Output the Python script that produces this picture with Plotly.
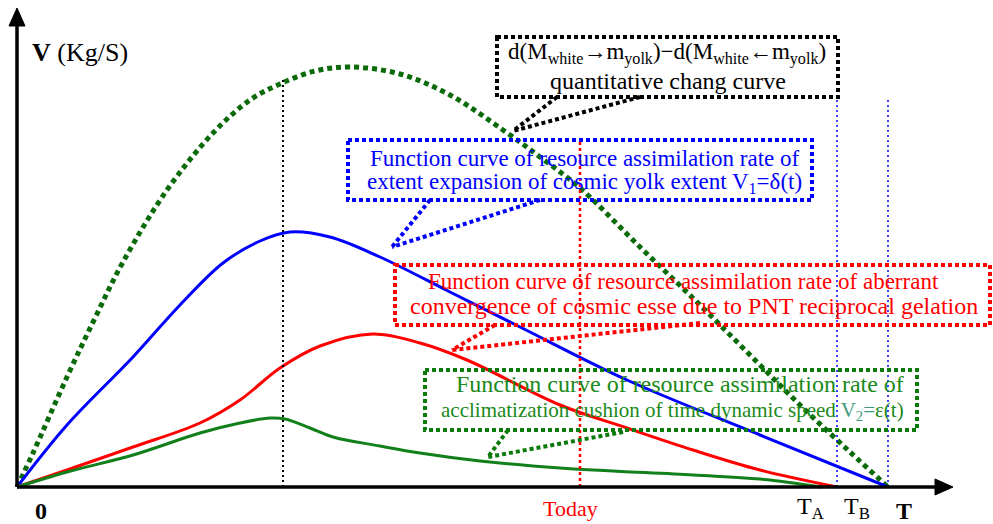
"""Conceptual diagram: resource assimilation rate curves."""
import plotly.graph_objects as go

# time axis (t) and rate (V) values
t_diff = [0, 16, 50, 78, 106, 150, 196, 233, 263, 298, 333, 383, 433, 486,
          523, 563, 623, 683, 733, 783, 833, 871]
v_diff = [0, 34, 110, 169, 225, 297, 354, 387, 403, 416, 420, 413, 392, 357,
          330, 299, 240, 182, 132, 82, 35, 0]

t_v1 = [0, 50, 116, 163, 206, 243, 273, 313, 363, 433, 503, 610, 743, 871]
v_v1 = [0, 62, 130, 182, 224, 246, 255, 250, 230, 195, 160, 107, 52, 0]

t_pnt = [0, 50, 116, 183, 223, 263, 303, 356, 403, 450, 543, 610, 676, 743, 820]
v_pnt = [0, 17, 40, 64, 87, 119, 141, 153, 144, 127, 82, 59, 37, 17, 0]

t_v2 = [0, 50, 116, 183, 223, 253, 268, 293, 316, 363, 403, 463, 543, 676,
        743, 805]
v_v2 = [0, 15, 32, 54, 64, 69, 68, 59, 50, 41, 34, 26, 19, 12, 8, 0]

t_marks = {"peak": 266, "today": 563, "TA": 820, "TB": 871}

# pixel position of the origin, one data unit = one pixel
X0, Y0 = 17, 487
FONT = "'Liberation Serif', 'Times New Roman', Times, serif"


def P(x, y):
    return x - X0, Y0 - y


fig = go.Figure()

fig.add_trace(go.Scatter(x=t_diff, y=v_diff, mode="lines", line_shape="spline",
                         line=dict(color="#0b6b0b", width=5, dash="5px,4px"),
                         hoverinfo="skip"))
fig.add_trace(go.Scatter(x=t_v1, y=v_v1, mode="lines", line_shape="spline",
                         line=dict(color="#0000ff", width=3), hoverinfo="skip"))
fig.add_trace(go.Scatter(x=t_pnt, y=v_pnt, mode="lines", line_shape="spline",
                         line=dict(color="#ff0000", width=3), hoverinfo="skip"))
fig.add_trace(go.Scatter(x=t_v2, y=v_v2, mode="lines", line_shape="spline",
                         line=dict(color="#12801a", width=3), hoverinfo="skip"))

shapes = []
# vertical marker lines
vlines = [("peak", 410, "#000000", 2, "2px,3px"),
          ("today", 347, "#ff0000", 2.5, "3px,3px"),
          ("TA", 387, "#0000ff", 1.5, "2px,3px"),
          ("TB", 387, "#0000ff", 1.5, "2px,3px")]
for key, top, col, w, d in vlines:
    shapes.append(dict(type="line", x0=t_marks[key], x1=t_marks[key], y0=0,
                       y1=top, line=dict(color=col, width=w, dash=d)))

# axes with arrow heads
shapes.append(dict(type="line", x0=0, y0=0, x1=0, y1=462,
                   line=dict(color="black", width=3.5)))
shapes.append(dict(type="path", path="M 0,479 L -8,461 L 8,461 Z",
                   fillcolor="black", line=dict(color="black", width=1)))
shapes.append(dict(type="line", x0=0, y0=0, x1=922, y1=0,
                   line=dict(color="black", width=3.5)))
shapes.append(dict(type="path", path="M 936,0 L 918,-8 L 918,8 Z",
                   fillcolor="black", line=dict(color="black", width=1)))

# callout boxes: (x0, y0, x1, y1) in px, pointer base points and tip, colour
boxes = [
    ((497, 37, 838, 97), [(557, 97), (640, 97)], (513, 131), "#000000"),
    ((348, 140, 812, 200), [(430, 200), (540, 200)], (392, 247), "#0000ff"),
    ((395, 265, 990, 325), [(495, 325), (700, 323)], (452, 350), "#ff0000"),
    ((425, 370, 917, 430), [(508, 430), (623, 432)], (488, 457), "#0a7a0a"),
]
for (bx0, by0, bx1, by1), bases, tip, col in boxes:
    a = P(bx0, by0)
    b = P(bx1, by1)
    shapes.append(dict(type="rect", x0=a[0], y0=a[1], x1=b[0], y1=b[1],
                       fillcolor="rgba(0,0,0,0)",
                       line=dict(color=col, width=4, dash="4px,3px")))
    tx, ty = P(*tip)
    for base in bases:
        sx, sy = P(*base)
        shapes.append(dict(type="line", x0=sx, y0=sy, x1=tx, y1=ty,
                           line=dict(color=col, width=4, dash="4px,3px")))

texts = [
    ("d(M<sub>white</sub>→m<sub>yolk</sub>)−d(M<sub>white</sub>←m<sub>yolk</sub>)",
     667, 53, "#000000", 23),
    ("quantitative chang curve", 668, 81, "#000000", 24),
    ("Function curve of resource assimilation rate of", 585, 158, "#0000ff", 23),
    ("extent expansion of cosmic yolk extent V<sub>1</sub>=δ(t)", 584, 183,
     "#0000ff", 23),
    ("Function curve of resource assimilation rate of aberrant", 683, 281,
     "#ff0000", 23),
    ("convergence of cosmic esse due to PNT reciprocal gelation", 694, 306,
     "#ff0000", 24),
    ("Function curve of resource assimilation rate of", 680, 384, "#1a8a1a", 24),
    ("acclimatization cushion of time dynamic speed "
     "<span style='color:#3d9b7c'>V<sub>2</sub>=</span>ε(t)", 672, 411,
     "#1a8a1a", 21),
    ("<b>V</b> (Kg/S)", 80, 52, "#000000", 26),
    ("<b>0</b>", 41, 511, "#000000", 24),
    ("Today", 570, 508, "#ff0000", 22),
    ("T<sub>A</sub>", 810, 508, "#000000", 24),
    ("T<sub>B</sub>", 857, 508, "#000000", 24),
    ("<b>T</b>", 904, 511, "#000000", 24),
]
annotations = []
for txt, x, y, col, size in texts:
    ax, ay = P(x, y)
    annotations.append(dict(text=txt, x=ax, y=ay, xref="x", yref="y",
                            showarrow=False, xanchor="center", yanchor="middle",
                            font=dict(family=FONT, size=size, color=col)))

fig.update_layout(
    width=993, height=524,
    margin=dict(l=0, r=0, t=0, b=0),
    paper_bgcolor="white", plot_bgcolor="white",
    showlegend=False,
    shapes=shapes,
    annotations=annotations,
    xaxis=dict(range=[-X0, 993 - X0], visible=False, fixedrange=True),
    yaxis=dict(range=[Y0 - 524, Y0], visible=False, fixedrange=True),
)

fig.write_html("out.html", config={"displayModeBar": False},
               post_script="document.body.style.margin='0';"
                           "document.body.style.overflow='hidden';")
